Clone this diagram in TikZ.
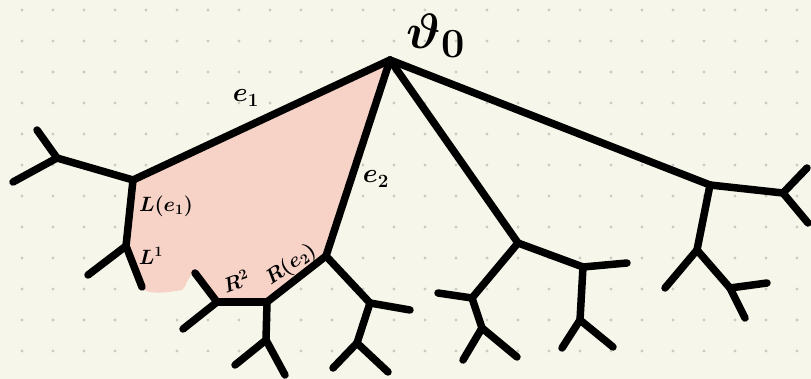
\documentclass[tikz,border=0pt]{standalone}
\usepackage{amsmath,amssymb}
\usepackage{xcolor}
\usepackage{tikz}
\definecolor{paperbg}{HTML}{F7F6EA}
\definecolor{paperdot}{HTML}{CBCBC3}
\definecolor{regionfill}{HTML}{F7D3C7}
\tikzset{
every picture/.style={line cap=round,line join=round},
tree edge/.style={draw=black, line width=7.5pt},
edge label/.style={font=\LARGE\boldmath, scale=1.2, text=black, inner sep=0pt},
big label/.style={font=\huge\boldmath, scale=1.3, text=black, inner sep=0pt},
root label/.style={font=\Huge\boldmath, scale=2, text=black, inner sep=0pt},
grid dot/.style={fill=paperdot, draw=none},
shaded part/.style={fill=regionfill, draw=none}
}
\begin{document}
\begin{tikzpicture}[x=1pt,y=-1pt]
% paper and dot grid
\fill[paperbg] (0,0) rectangle (811,379);
\useasboundingbox (0,0) rectangle (811,379);
\foreach \i in {0,...,25}
  \foreach \j in {0,...,11}
    \fill[grid dot] (22+31*\i,10+31*\j) circle (1.6);
% tree vertices
\coordinate (root) at (390,60);
\coordinate (a) at (133,180);
\coordinate (a1) at (57,158);
\coordinate (a11) at (37,130);
\coordinate (a12) at (13,182);
\coordinate (l1) at (126,246);
\coordinate (l11) at (88,275);
\coordinate (l12) at (142,287);
\coordinate (b) at (326,256);
\coordinate (r) at (267,302);
\coordinate (r2) at (217,302);
\coordinate (r21) at (195,273);
\coordinate (r22) at (183,329);
\coordinate (r3) at (266,340);
\coordinate (r31) at (235,365);
\coordinate (r32) at (285,375);
\coordinate (b1) at (370,303);
\coordinate (b11) at (410,310);
\coordinate (b2) at (357,343);
\coordinate (b21) at (333,368);
\coordinate (b22) at (388,372);
\coordinate (c) at (518,243);
\coordinate (c1) at (472,298);
\coordinate (c11) at (438,293);
\coordinate (c2) at (482,328);
\coordinate (c21) at (463,360);
\coordinate (c22) at (517,357);
\coordinate (c3) at (583,267);
\coordinate (c31) at (627,263);
\coordinate (c4) at (580,320);
\coordinate (c41) at (562,348);
\coordinate (c42) at (613,347);
\coordinate (d) at (710,185);
\coordinate (d1) at (783,193);
\coordinate (d11) at (807,168);
\coordinate (d12) at (808,223);
\coordinate (d2) at (697,250);
\coordinate (d21) at (665,288);
\coordinate (d3) at (730,288);
\coordinate (d31) at (767,283);
\coordinate (d32) at (745,318);
% shaded region between e1 and e2
\fill[shaded part] (root) -- (a) -- (l1) -- (l12)
  .. controls (146,296) and (170,292) .. (182,290)
  .. controls (188,286) and (186,276) .. (r21)
  -- (r2) -- (r) -- (b) -- cycle;
% edges
\foreach \u/\v in {root/a,root/b,root/c,root/d,
  a/a1,a1/a11,a1/a12,a/l1,l1/l11,l1/l12,
  b/r,r/r2,r2/r21,r2/r22,r/r3,r3/r31,r3/r32,
  b/b1,b1/b11,b1/b2,b2/b21,b2/b22,
  c/c1,c1/c11,c1/c2,c2/c21,c2/c22,c/c3,c3/c31,c3/c4,c4/c41,c4/c42,
  d/d1,d1/d11,d1/d12,d/d2,d2/d21,d2/d3,d3/d31,d3/d32}
  \draw[tree edge] (\u) -- (\v);
% labels
\node[root label] (v0) at (436,36) {$\vartheta_0$};
\node[big label] (e1) at (246,98) {$e_1$};
\node[big label] (e2) at (376,179) {$e_2$};
\node[edge label] (le1) at (166,206) {$L(e_1)$};
\node[edge label] (l1lab) at (151,256) {$L^1$};
\node[edge label,rotate=20] (r2lab) at (236,281) {$R^2$};
\node[edge label,rotate=35] (re2) at (291,265) {$R(e_2)$};
\end{tikzpicture}
\end{document}
